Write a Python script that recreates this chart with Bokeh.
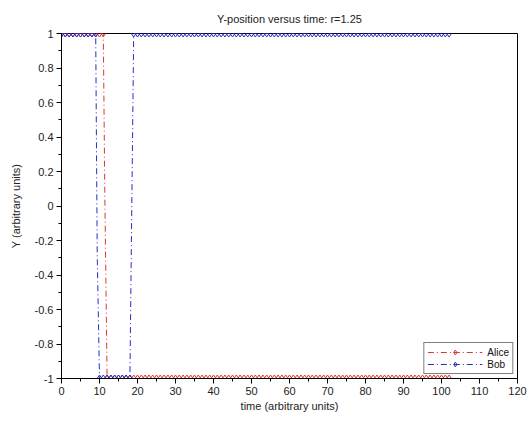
from bokeh.plotting import figure
from bokeh.models import FixedTicker, Range1d, ColumnDataSource, CDSView, BooleanFilter
from bokeh.embed import file_html
from bokeh.resources import INLINE

# ---- data ----
alice_t = list(range(0, 12)) + [11.4] + list(range(12, 103))
alice_y = [1] * 12 + [0.07] + [-1] * 91

bob_t = list(range(0, 10)) + [9.4] + list(range(10, 19)) + [18.3] + list(range(19, 103))
bob_y = [1] * 10 + [-0.28] + [-1] * 9 + [-0.4] + [1] * 84

x_ticks = [0, 10, 20, 30, 40, 50, 60, 70, 80, 90, 100, 110, 120]
x_minor = [5, 15, 25, 35, 45, 55, 65, 75, 85, 95, 105, 115]
y_ticks = [-1, -0.8, -0.6, -0.4, -0.2, 0, 0.2, 0.4, 0.6, 0.8, 1]
y_labels = ["-1", "-0.8", "-0.6", "-0.4", "-0.2", "0", "0.2", "0.4", "0.6", "0.8", "1"]
y_minor = [-0.9, -0.7, -0.5, -0.3, -0.1, 0.1, 0.3, 0.5, 0.7, 0.9]

title_text = "Y-position versus time: r=1.25"
x_label = "time (arbitrary units)"
y_label = "Y (arbitrary units)"

RED = "#d83838"
BLUE = "#2c2cc4"
FONT = "Liberation Sans"

p = figure(width=530, height=421, output_backend="svg", toolbar_location=None,
           x_range=Range1d(0, 120), y_range=Range1d(-1, 1),
           min_border_left=61, min_border_right=13, min_border_top=33, min_border_bottom=43,
           title=title_text)

p.title.text_font = FONT
p.title.text_font_size = "11px"
p.title.text_font_style = "normal"
p.title.text_color = "#222222"
p.title.align = "center"
p.title.standoff = 17

p.xgrid.visible = False
p.ygrid.visible = False
p.outline_line_color = "black"
p.outline_line_width = 1
p.background_fill_color = "white"
p.border_fill_color = "white"

p.xaxis.ticker = FixedTicker(ticks=x_ticks, minor_ticks=x_minor)
p.yaxis.ticker = FixedTicker(ticks=y_ticks, minor_ticks=y_minor)
p.yaxis.major_label_overrides = {v: s for v, s in zip(y_ticks, y_labels)}

for ax in (p.xaxis, p.yaxis):
    ax.axis_line_color = "black"
    ax.major_tick_line_color = "black"
    ax.minor_tick_line_color = "black"
    ax.major_tick_out = 5
    ax.major_tick_in = 0
    ax.minor_tick_out = 3
    ax.minor_tick_in = 0
    ax.major_label_text_font = FONT
    ax.major_label_text_font_size = "11px"
    ax.major_label_text_color = "#222222"
    ax.major_label_standoff = 3
    ax.axis_label_text_font = FONT
    ax.axis_label_text_font_size = "11px"
    ax.axis_label_text_font_style = "normal"
    ax.axis_label_text_color = "#222222"

p.xaxis.axis_label = x_label
p.yaxis.axis_label = y_label
p.xaxis.axis_label_standoff = 2
p.yaxis.axis_label_standoff = 10

dash = "6 3 1 3"

for t, y, col, name in ((alice_t, alice_y, RED, "Alice"), (bob_t, bob_y, BLUE, "Bob")):
    src = ColumnDataSource(dict(t=t, y=y))
    # markers only on the sampled plateau points, not on the transition points
    view = CDSView(filter=BooleanFilter([abs(v) == 1 for v in y]))
    p.line("t", "y", source=src, line_color=col, line_dash=dash, line_width=1, legend_label=name)
    p.scatter("t", "y", source=src, view=view, marker="diamond", size=7, line_color=col,
              fill_color=None, line_width=1, legend_label=name)

lg = p.legend[0]
lg.location = "bottom_right"
lg.margin = 4
lg.padding = 3
lg.spacing = 0
lg.glyph_width = 55
lg.glyph_height = 12
lg.label_height = 12
lg.label_standoff = 5
lg.label_text_font = FONT
lg.label_text_font_size = "10px"
lg.label_text_color = "#111111"
lg.border_line_color = "black"
lg.border_line_width = 1
lg.background_fill_color = "white"
lg.background_fill_alpha = 1.0

open("out.html", "w").write(file_html(p, INLINE))
